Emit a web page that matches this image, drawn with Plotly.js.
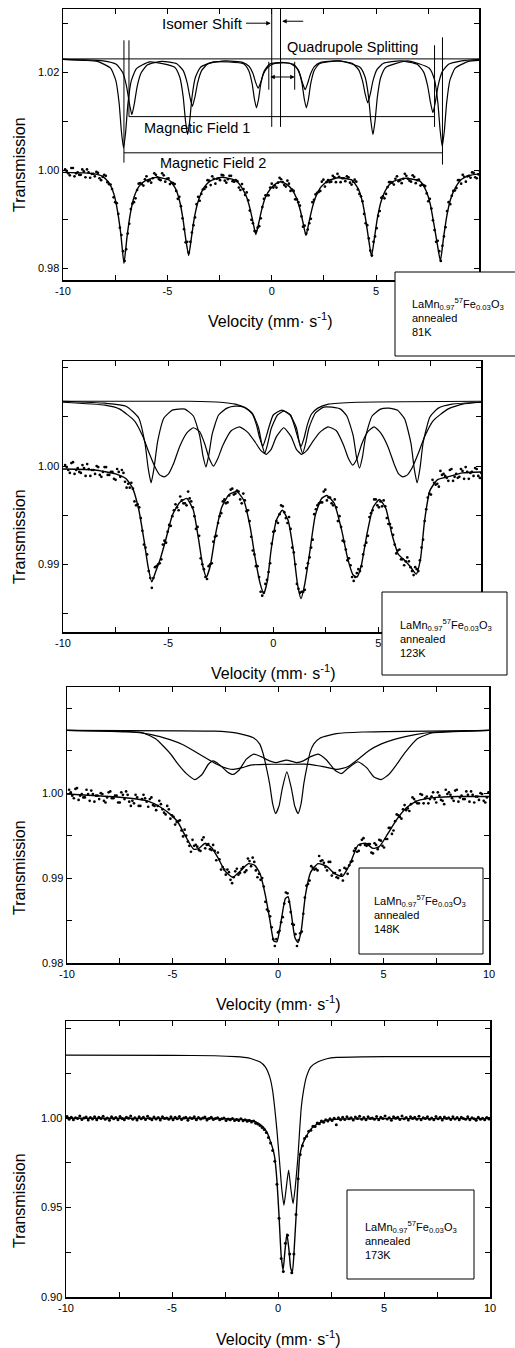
<!DOCTYPE html>
<html><head><meta charset="utf-8">
<script src="https://cdn.plot.ly/plotly-3.0.1.min.js"></script>
<style>html,body{margin:0;padding:0;background:#fff}#chart{width:515px;height:1348px}</style>
</head><body><div id="chart"></div>
<script>
// ---------- channel velocities (mm/s) ----------
const chanStartA = -9.9, chanStartA2 = -9.825, chanStepA = 0.15;   // panels 81K,123K,148K (two interleaved channel sets)
const chanStartB = -9.95, chanStepB = 0.1;                         // panel 173K

// ---------- tick labels ----------
const xTickVals = [-10, -5, 0, 5, 10];
const xTickText = ['-10', '-5', '0', '5', '10'];
const y81Vals = [0.98, 1.00, 1.02], y81Text = ['0.98', '1.00', '1.02'];
const y123Vals = [0.99, 1.00], y123Text = ['0.99', '1.00'];
const y148Vals = [0.98, 0.99, 1.00], y148Text = ['0.98', '0.99', '1.00'];
const y173Vals = [0.90, 0.95, 1.00], y173Text = ['0.90', '0.95', '1.00'];

const sampleLabels = ['81K', '123K', '148K', '173K'];

// ---------- 81 K ----------
const data81 = [1.0002,.9994,1.0005,.9988,.9996,.9991,.9998,1.0002,.9985,.9993,
.9997,.9984,.9987,.9989,.9972,.9962,.9935,.9911,.9868,.9815,
.9871,.9921,.9935,.9960,.9974,.9969,.9988,.9980,.9984,.9991,
.9982,.9994,.9977,.9984,.9975,.9972,.9942,.9927,.9880,.9854,
.9854,.9888,.9931,.9938,.9961,.9966,.9979,.9988,.9973,.9984,
.9991,.9979,.9982,.9989,.9977,.9978,.9960,.9962,.9955,.9918,
.9892,.9876,.9886,.9925,.9949,.9949,.9973,.9969,.9975,.9982,
.9970,.9979,.9958,.9958,.9941,.9928,.9885,.9871,.9892,.9935,
.9951,.9956,.9977,.9967,.9980,.9977,.9986,.9993,.9976,.9984,
.9988,.9975,.9977,.9977,.9952,.9937,.9892,.9861,.9826,.9865,
.9907,.9944,.9943,.9966,.9976,.9971,.9988,.9980,.9983,.9989,
.9979,.9990,.9974,.9981,.9971,.9968,.9937,.9922,.9878,.9856,
.9815,.9865,.9917,.9931,.9958,.9964,.9980,.9991,.9977,.9989,
.9996,.9986,.9992];
const data81b = [.9999,.9990,1.0005,.9994,.9991,1.0002,.9986,.9996,.9993,.9988,
.9995,.9980,.9991,.9976,.9971,.9945,.9933,.9883,.9835,.9839,
.9891,.9932,.9943,.9973,.9972,.9982,.9978,.9975,.9994,.9986,
.9980,.9990,.9983,.9972,.9974,.9958,.9946,.9902,.9853,.9832,
.9873,.9904,.9946,.9952,.9962,.9980,.9970,.9983,.9983,.9980,
.9990,.9975,.9989,.9978,.9980,.9965,.9972,.9950,.9939,.9899,
.9876,.9883,.9902,.9942,.9949,.9965,.9965,.9965,.9985,.9976,
.9967,.9973,.9961,.9941,.9935,.9906,.9887,.9879,.9901,.9940,
.9954,.9958,.9981,.9976,.9976,.9989,.9976,.9987,.9984,.9978,
.9986,.9971,.9981,.9961,.9947,.9911,.9888,.9836,.9854,.9882,
.9917,.9947,.9952,.9976,.9975,.9983,.9978,.9974,.9993,.9983,
.9977,.9987,.9980,.9969,.9970,.9953,.9942,.9898,.9854,.9835,
.9846,.9884,.9935,.9948,.9959,.9980,.9973,.9987,.9988,.9985,
.9995,.9984,.9999];
const fit81X = [-10,-9,-8.5,-8.1,-7.8,-7.55,-7.38,-7.23,-7.08,-6.93,-6.78,-6.6,-6.35,-6.05,-5.5,-4.9,-4.6,-4.4,-4.25,-4.12,-3.98,-3.84,-3.7,-3.5,-3.25,-2.95,-2.4,-1.75,-1.45,-1.2,-1.03,-0.9,-0.76,-0.62,-0.48,-0.3,-0.05,0.2,0.44,0.7,0.95,1.2,1.37,1.5,1.64,1.78,1.92,2.1,2.35,2.7,3.2,3.85,4.15,4.35,4.5,4.64,4.78,4.92,5.06,5.25,5.5,5.8,6.4,7.1,7.4,7.6,7.77,7.93,8.08,8.23,8.38,8.56,8.8,9.1,9.5,9.93];
const fit81Y = [.9996,.9995,.9993,.9988,.9975,.9950,.9915,.9870,.9810,.9865,.9910,.9945,.9968,.9979,.9986,.9980,.9962,.9935,.9900,.9860,.9826,.9865,.9905,.9940,.9965,.9978,.9986,.9980,.9966,.9945,.9920,.9895,.9869,.9893,.9920,.9945,.9963,.9973,.9977,.9972,.9962,.9942,.9918,.9893,.9867,.9893,.9920,.9945,.9966,.9979,.9985,.9980,.9962,.9935,.9900,.9860,.9824,.9862,.9902,.9938,.9963,.9977,.9984,.9978,.9958,.9930,.9890,.9850,.9815,.9862,.9905,.9940,.9965,.9982,.9990,.9993];
const sub81aX = [-10,-9,-8.35,-7.72,-7.47,-7.31,-7.2,-7.1,-7.0,-6.89,-6.73,-6.48,-5.85,-4.65,-4.4,-4.24,-4.13,-4.03,-3.93,-3.82,-3.66,-3.41,-2.78,-1.35,-1.1,-0.94,-0.83,-0.73,-0.63,-0.52,-0.36,-0.11,0.47,1.04,1.29,1.45,1.56,1.66,1.76,1.87,2.03,2.28,3.26,4.23,4.48,4.64,4.75,4.85,4.95,5.06,5.22,5.47,6.51,7.55,7.8,7.96,8.07,8.17,8.27,8.38,8.54,8.79,9.42,9.93];
const sub81aY = [1.0227,1.0225,1.0223,1.0209,1.0184,1.0137,1.0079,1.0046,1.0078,1.0136,1.0183,1.0208,1.0222,1.0211,1.0190,1.0150,1.0101,1.0073,1.0101,1.0150,1.0190,1.0211,1.0222,1.0218,1.0204,1.0178,1.0146,1.0128,1.0146,1.0178,1.0203,1.0217,1.0221,1.0217,1.0204,1.0178,1.0146,1.0128,1.0146,1.0178,1.0204,1.0218,1.0224,1.0211,1.0190,1.0150,1.0101,1.0073,1.0101,1.0150,1.0190,1.0211,1.0224,1.0209,1.0185,1.0138,1.0081,1.0049,1.0081,1.0138,1.0185,1.0209,1.0223,1.0225];
const sub81bX = [-10,-9,-8.08,-7.45,-7.14,-6.95,-6.82,-6.7,-6.58,-6.45,-6.26,-5.95,-5.25,-4.55,-4.24,-4.05,-3.92,-3.8,-3.68,-3.55,-3.36,-3.05,-2.22,-1.4,-1.09,-0.9,-0.77,-0.65,-0.53,-0.4,-0.21,0.1,0.47,0.85,1.16,1.35,1.48,1.6,1.72,1.85,2.04,2.35,3.1,3.85,4.16,4.35,4.48,4.6,4.72,4.85,5.04,5.35,6.16,6.97,7.28,7.47,7.6,7.72,7.84,7.97,8.16,8.47,9.1,9.93];
const sub81bY = [1.0227,1.0226,1.0224,1.0217,1.0200,1.0171,1.0137,1.0114,1.0137,1.0171,1.0199,1.0216,1.0223,1.0218,1.0204,1.0179,1.0150,1.0131,1.0150,1.0179,1.0204,1.0218,1.0224,1.0221,1.0213,1.0198,1.0180,1.0168,1.0180,1.0197,1.0210,1.0218,1.0220,1.0219,1.0211,1.0196,1.0178,1.0165,1.0178,1.0196,1.0212,1.0221,1.0224,1.0219,1.0206,1.0183,1.0156,1.0138,1.0156,1.0183,1.0206,1.0219,1.0224,1.0217,1.0201,1.0173,1.0140,1.0118,1.0140,1.0173,1.0201,1.0217,1.0224,1.0227];

// ---------- 123 K ----------
const data123 = [1.0001,.9996,1.0003,.9992,.9998,.9993,.9998,1.0002,.9990,.9996,
1.0000,.9991,.9994,.9999,.9991,.9994,.9986,.9994,.9996,.9984,
.9982,.9983,.9964,.9961,.9947,.9920,.9910,.9886,.9886,.9898,
.9901,.9920,.9922,.9940,.9949,.9961,.9955,.9965,.9962,.9974,
.9964,.9949,.9938,.9906,.9895,.9885,.9900,.9923,.9929,.9949,
.9964,.9962,.9970,.9977,.9972,.9974,.9962,.9965,.9955,.9928,
.9910,.9898,.9872,.9871,.9884,.9901,.9933,.9944,.9951,.9959,
.9947,.9948,.9917,.9900,.9875,.9872,.9874,.9901,.9917,.9951,
.9960,.9963,.9974,.9965,.9968,.9960,.9958,.9949,.9924,.9915,
.9906,.9887,.9887,.9895,.9898,.9919,.9929,.9952,.9966,.9960,
.9964,.9965,.9947,.9941,.9930,.9911,.9915,.9905,.9903,.9903,
.9893,.9897,.9893,.9917,.9944,.9968,.9971,.9983,.9982,.9995,
.9992,.9988,.9996,.9985,.9992,.9989,.9995,.9999,.9987,.9994,
.9998,.9990,.9993];
const data123b = [.9999,.9993,1.0004,.9996,.9994,1.0001,.9990,.9997,.9996,.9992,
.9999,.9989,.9999,.9991,.9994,.9987,.9997,.9989,.9993,.9978,
.9978,.9977,.9960,.9958,.9934,.9917,.9893,.9876,.9897,.9900,
.9905,.9924,.9933,.9939,.9955,.9958,.9969,.9962,.9960,.9967,
.9958,.9936,.9929,.9900,.9887,.9898,.9901,.9928,.9942,.9952,
.9966,.9963,.9976,.9971,.9975,.9966,.9972,.9954,.9944,.9914,
.9898,.9887,.9868,.9880,.9892,.9921,.9934,.9942,.9960,.9953,
.9942,.9936,.9912,.9880,.9871,.9872,.9896,.9907,.9925,.9956,
.9962,.9963,.9976,.9968,.9962,.9966,.9944,.9938,.9923,.9904,
.9899,.9883,.9891,.9893,.9910,.9922,.9948,.9955,.9966,.9958,
.9959,.9959,.9941,.9937,.9920,.9914,.9905,.9899,.9907,.9897,
.9889,.9895,.9904,.9925,.9956,.9972,.9986,.9981,.9979,.9991,
.9990,.9985,.9997,.9989,.9988,.9997,.9987,.9994,.9993,.9990,
.9997,.9988,.9998];
const fit123X = [-10,-8.5,-7.5,-7.0,-6.7,-6.4,-6.15,-5.95,-5.78,-5.6,-5.38,-5.1,-4.8,-4.45,-4.11,-3.8,-3.55,-3.35,-3.18,-3.0,-2.75,-2.45,-2.1,-1.73,-1.4,-1.1,-0.85,-0.62,-0.45,-0.28,-0.1,0.15,0.43,0.7,0.95,1.15,1.32,1.5,1.72,2.0,2.3,2.55,2.9,3.25,3.55,3.8,3.98,4.18,4.45,4.75,5.05,5.35,5.65,5.95,6.2,6.5,6.8,7.0,7.2,7.45,7.8,8.3,9.0,9.88];
const fit123Y = [.9997,.9996,.9992,.9987,.9978,.9956,.9925,.9897,.9882,.9892,.9905,.9926,.9950,.9963,.9967,.9955,.9925,.9898,.9887,.9898,.9930,.9958,.9971,.9974,.9965,.9938,.9905,.9880,.9870,.9883,.9915,.9945,.9955,.9945,.9915,.9880,.9865,.9880,.9910,.9950,.9967,.9970,.9962,.9935,.9905,.9889,.9887,.9898,.9930,.9958,.9966,.9957,.9930,.9910,.9905,.9898,.9890,.9905,.9945,.9975,.9986,.9989,.9993,.9994];
const sub123aX = [-10,-8,-7,-6.4,-6.1,-5.95,-5.81,-5.67,-5.5,-5.2,-4.8,-4.5,-4.2,-3.8,-3.5,-3.34,-3.2,-3.06,-2.9,-2.6,-2.2,-1.8,-1.4,-1.0,-0.7,-0.55,-0.4,-0.25,-0.1,0.2,0.5,0.8,1.1,1.25,1.4,1.55,1.7,2.0,2.4,2.8,3.2,3.5,3.8,3.96,4.1,4.24,4.4,4.7,5.1,5.5,5.9,6.25,6.55,6.7,6.84,6.98,7.13,7.45,7.85,8.5,9.88];
const sub123aY = [1.0066,1.0064,1.0061,1.0049,1.0023,.9998,.9983,.9998,1.0025,1.0049,1.0057,1.0058,1.0058,1.0051,1.0031,1.0010,.9999,1.0012,1.0033,1.0052,1.0059,1.0061,1.0060,1.0054,1.0039,1.0023,1.0013,1.0024,1.0038,1.0052,1.0056,1.0052,1.0039,1.0023,1.0013,1.0024,1.0039,1.0054,1.0060,1.0060,1.0058,1.0051,1.0031,1.0009,.9998,1.0009,1.0031,1.0051,1.0058,1.0059,1.0057,1.0048,1.0023,.9998,.9983,.9998,1.0024,1.0050,1.0059,1.0063,1.0065];
const sub123bX = [-10,-8,-7.3,-6.6,-6.2,-5.9,-5.6,-5.4,-5.19,-4.98,-4.75,-4.45,-4.1,-3.8,-3.5,-3.25,-3.05,-2.84,-2.63,-2.4,-2.0,-1.6,-1.2,-0.85,-0.6,-0.33,-0.1,0.15,0.5,0.85,1.1,1.35,1.6,1.85,2.2,2.6,3.0,3.35,3.57,3.78,3.99,4.2,4.5,4.8,5.1,5.45,5.75,5.96,6.17,6.38,6.6,6.9,7.2,7.6,8.3,9.0,9.88];
const sub123bY = [1.0065,1.0062,1.0058,1.0046,1.0030,1.0013,.9998,.9991,.9989,.9992,1.0002,1.0020,1.0034,1.0039,1.0035,1.0022,1.0008,1.0000,1.0008,1.0021,1.0036,1.0040,1.0034,1.0024,1.0016,1.0012,1.0017,1.0030,1.0039,1.0030,1.0017,1.0012,1.0016,1.0024,1.0034,1.0040,1.0036,1.0021,1.0008,1.0001,1.0008,1.0022,1.0035,1.0040,1.0034,1.0020,1.0002,.9992,.9989,.9991,.9998,1.0013,1.0030,1.0046,1.0058,1.0063,1.0065];
const sub123cX = [-10,-4,-2.5,-1.8,-1.3,-1.0,-0.8,-0.65,-0.5,-0.35,-0.2,0.0,0.41,0.82,1.02,1.17,1.32,1.47,1.62,1.82,2.12,2.62,4.0,9.88];
const sub123cY = [1.0066,1.0066,1.0065,1.0063,1.0059,1.0053,1.0042,1.0029,1.0020,1.0029,1.0040,1.0052,1.0057,1.0052,1.0040,1.0029,1.0020,1.0029,1.0042,1.0053,1.0059,1.0063,1.0065,1.0066];

// ---------- 148 K ----------
const data148 = [1.0004,.9997,1.0005,.9992,.9999,.9995,.9999,1.0003,.9990,.9997,
1.0000,.9991,.9995,1.0002,.9994,.9997,.9989,.9998,1.0002,.9990,
.9991,.9998,.9985,.9993,.9994,.9984,.9995,.9985,.9985,.9987,
.9977,.9985,.9970,.9972,.9966,.9968,.9949,.9950,.9938,.9945,
.9939,.9933,.9945,.9935,.9940,.9933,.9932,.9930,.9910,.9910,
.9910,.9898,.9901,.9911,.9906,.9913,.9909,.9920,.9924,.9909,
.9905,.9900,.9872,.9861,.9842,.9820,.9836,.9848,.9870,.9882,
.9860,.9845,.9820,.9835,.9858,.9891,.9897,.9912,.9911,.9926,
.9921,.9913,.9919,.9903,.9906,.9900,.9904,.9912,.9905,.9919,
.9932,.9931,.9939,.9947,.9938,.9940,.9929,.9939,.9945,.9938,
.9946,.9959,.9952,.9967,.9974,.9970,.9986,.9982,.9987,.9993,
.9988,.9999,.9988,.9996,.9993,1.0001,.9989,.9997,.9991,1.0004,
1.0001,.9994,1.0003,.9990,.9997,.9993,.9998,1.0002,.9989,.9996,
1.0000,.9991,.9995];
const data148b = [1.0001,.9994,1.0006,.9997,.9995,1.0004,.9991,.9999,.9997,.9993,
.9999,.9989,1.0001,.9994,.9997,.9989,1.0001,.9993,.9998,.9985,
.9988,.9995,.9985,.9998,.9990,.9993,.9986,.9980,.9991,.9981,
.9975,.9981,.9974,.9963,.9967,.9956,.9957,.9943,.9931,.9938,
.9937,.9932,.9948,.9939,.9934,.9939,.9921,.9922,.9913,.9904,
.9907,.9894,.9908,.9904,.9911,.9907,.9923,.9914,.9919,.9901,
.9898,.9890,.9863,.9855,.9828,.9828,.9838,.9854,.9883,.9872,
.9846,.9834,.9827,.9837,.9877,.9893,.9914,.9910,.9909,.9920,
.9918,.9909,.9919,.9906,.9901,.9909,.9897,.9911,.9915,.9920,
.9935,.9932,.9945,.9939,.9940,.9930,.9941,.9934,.9944,.9936,
.9946,.9959,.9956,.9975,.9972,.9981,.9980,.9979,.9995,.9990,
.9988,.9998,.9994,.9988,.9996,.9993,1.0001,.9992,.9987,.9999,
.9998,.9991,1.0004,.9995,.9993,1.0002,.9990,.9998,.9996,.9992,
.9999,.9989,1.0001];
const fit148X = [-10,-8,-7,-6.2,-5.6,-5.1,-4.75,-4.4,-4.0,-3.75,-3.45,-3.15,-2.85,-2.5,-2.15,-1.8,-1.4,-1.1,-0.85,-0.6,-0.38,-0.2,-0.05,0.15,0.35,0.48,0.62,0.8,0.95,1.1,1.3,1.55,1.9,2.3,2.7,3.05,3.4,3.8,4.15,4.5,4.8,5.2,5.6,6.1,6.6,7.5,8.5,10];
const fit148Y = [.9999,.9996,.9994,.9991,.9984,.9975,.9966,.9950,.9934,.9935,.9941,.9936,.9924,.9908,.9901,.9908,.9917,.9915,.9905,.9880,.9850,.9826,.9825,.9850,.9876,.9878,.9860,.9830,.9824,.9838,.9880,.9907,.9917,.9914,.9905,.9902,.9916,.9939,.9941,.9935,.9937,.9952,.9968,.9983,.9991,.9995,.9996,.9996];
const sub148aX = [-10,-3,-2,-1.5,-1.15,-0.87,-0.71,-0.55,-0.39,-0.25,-0.11,0.05,0.2,0.42,0.64,0.79,0.95,1.09,1.23,1.38,1.52,1.7,2.0,2.76,4,10];
const sub148aY = [1.0074,1.0073,1.0071,1.0068,1.0065,1.0058,1.0047,1.0030,1.0010,.9987,.9976,.9985,1.0005,1.0025,1.0005,.9985,.9976,.9987,1.0012,1.0032,1.0048,1.0058,1.0065,1.0070,1.0072,1.0074];
const sub148bX = [-10,-7.5,-6.4,-5.8,-5.12,-4.7,-4.34,-3.94,-3.6,-3.3,-3.07,-2.75,-2.4,-2.13,-1.85,-1.5,-1.15,-0.8,-0.4,-0.1,0.4,0.9,1.2,1.55,1.9,2.3,2.7,3.0,3.3,3.79,4.2,4.55,4.89,5.25,5.6,6.0,6.6,7.3,8.0,10];
const sub148bY = [1.0074,1.0073,1.0071,1.0064,1.0047,1.0033,1.0023,1.0016,1.0022,1.0034,1.0038,1.0033,1.0025,1.0022,1.0027,1.0040,1.0046,1.0043,1.0038,1.0036,1.0039,1.0036,1.0038,1.0043,1.0046,1.0039,1.0027,1.0023,1.0029,1.0037,1.0030,1.0019,1.0016,1.0022,1.0033,1.0047,1.0064,1.0071,1.0072,1.0074];
const sub148cX = [-10,-7,-6,-5.12,-4.5,-4.0,-3.4,-2.9,-2.4,-2.1,-1.7,-1.3,-0.6,0.5,1.5,2.2,2.8,3.3,3.8,4.3,4.9,5.6,6.5,7.5,10];
const sub148cY = [1.0074,1.0072,1.0069,1.0063,1.0057,1.0050,1.0041,1.0034,1.0029,1.0028,1.0030,1.0033,1.0034,1.0034,1.0034,1.0031,1.0028,1.0031,1.0040,1.0050,1.0058,1.0064,1.0069,1.0072,1.0074];

// ---------- 173 K ----------
const data173 = [1.0008,.9993,1.0004,.9989,1.0001,.9996,1.0010,.9991,.9999,1.0005,
.9988,1.0002,.9994,1.0007,.9990,1.0003,.9997,1.0009,.9992,1.0000,
.9987,1.0006,.9995,1.0002,.9990,1.0008,.9996,.9989,1.0004,.9998,
1.0011,.9993,1.0001,.9988,1.0006,.9995,1.0003,.9991,1.0009,.9997,
.9990,1.0005,.9994,1.0002,.9988,1.0007,.9996,1.0000,.9992,1.0006,
.9989,1.0003,.9995,1.0008,.9991,.9999,1.0004,.9987,1.0001,.9996,
1.0006,.9990,1.0002,.9994,.9999,1.0005,.9988,.9997,1.0003,.9991,
.9996,1.0001,.9989,.9995,.9999,.9986,.9994,.9990,.9996,.9985,
.9991,.9986,.9995,.9984,.9990,.9981,.9985,.9977,.9982,.9970,
.9966,.9958,.9947,.9935,.9918,.9890,.9860,.9818,.9758,.9630,
.9440,.9215,.9142,.9300,.9345,.9240,.9135,.9240,.9460,.9660,
.9795,.9845,.9885,.9898,.9925,.9931,.9953,.9952,.9972,.9968,
.9983,.9976,.9990,.9982,.9995,.9986,.9998,.9962,1.0001,.9990,
1.0003,.9991,1.0007,.9995,1.0001,.9988,1.0005,.9997,1.0009,.9992,
1.0002,.9989,1.0006,.9996,1.0000,.9993,1.0008,.9990,1.0003,.9997,
1.0010,.9994,1.0001,.9987,1.0006,.9998,1.0004,.9991,1.0011,.9995,
1.0002,.9988,1.0007,.9996,1.0003,.9992,1.0009,.9989,1.0001,.9997,
1.0006,.9993,1.0000,.9990,1.0008,.9995,1.0003,.9988,1.0005,.9996,
1.0001,.9991,1.0007,.9994,1.0002,.9989,1.0004,.9997,.9992,1.0006,
.9990,1.0001,.9995,.9987,1.0003,.9993,.9998,.9989,1.0002,.9994];
const fit173X = [-10,-3,-2,-1.4,-1.0,-0.71,-0.5,-0.39,-0.25,-0.16,-0.05,0.05,0.15,0.24,0.33,0.42,0.52,0.6,0.68,0.78,0.9,1.02,1.12,1.26,1.57,1.9,2.3,3,5,10];
const fit173Y = [.9998,.9997,.9993,.9988,.9975,.9950,.9915,.9880,.9830,.9782,.9650,.9450,.9230,.9149,.9260,.9354,.9260,.9160,.9140,.9300,.9550,.9782,.9840,.9880,.9940,.9970,.9987,.9994,.9996,.9996];
const sub173X = [-10,-5,-3,-2,-1.4,-0.86,-0.6,-0.39,-0.25,-0.16,-0.05,0.08,0.18,0.28,0.38,0.5,0.61,0.71,0.82,0.94,1.02,1.1,1.2,1.34,1.55,1.89,2.3,2.75,4,6,10];
const sub173Y = [1.0350,1.0349,1.0347,1.0342,1.0335,1.0313,1.0285,1.0229,1.0150,1.0061,.9930,.9745,.9600,.9512,.9600,.9708,.9600,.9521,.9620,.9782,.9930,1.0061,1.0150,1.0229,1.0285,1.0313,1.0330,1.0338,1.0341,1.0342,1.0342];

// ---------- build ----------
const BLACK = '#000';
const FONT = 'Liberation Sans, Arial, Helvetica, sans-serif';
function pts(y, x0, dx, n, size) {
  return {type:'scatter', mode:'markers', y:y, x0:x0, dx:dx, xaxis:'x'+(n>1?n:''), yaxis:'y'+(n>1?n:''),
    marker:{size:size, color:BLACK}, showlegend:false, hoverinfo:'skip'};
}
function curve(x, y, n, w) {
  return {type:'scatter', mode:'lines', x:x, y:y, xaxis:'x'+(n>1?n:''), yaxis:'y'+(n>1?n:''),
    line:{color:BLACK, width:w, shape:'spline', smoothing:0.5}, showlegend:false, hoverinfo:'skip'};
}
const traces = [
  pts(data81, chanStartA, chanStepA, 1, 2.7), pts(data81b, chanStartA2, chanStepA, 1, 2.7), curve(fit81X, fit81Y, 1, 1.4),
  curve(sub81aX, sub81aY, 1, 1.2), curve(sub81bX, sub81bY, 1, 1.2),
  pts(data123, chanStartA, chanStepA, 2, 2.7), pts(data123b, chanStartA2, chanStepA, 2, 2.7), curve(fit123X, fit123Y, 2, 1.4),
  curve(sub123aX, sub123aY, 2, 1.2), curve(sub123bX, sub123bY, 2, 1.2), curve(sub123cX, sub123cY, 2, 1.2),
  pts(data148, chanStartA, chanStepA, 3, 2.7), pts(data148b, chanStartA2, chanStepA, 3, 2.7), curve(fit148X, fit148Y, 3, 1.4),
  curve(sub148aX, sub148aY, 3, 1.2), curve(sub148bX, sub148bY, 3, 1.2), curve(sub148cX, sub148cY, 3, 1.2),
  pts(data173, chanStartB, chanStepB, 4, 3), curve(fit173X, fit173Y, 4, 1.4),
  curve(sub173X, sub173Y, 4, 1.2)
];

const W = 515, H = 1348;
const px = v => v / W, py = v => 1 - v / H;
function xax(l, r, range, anchor) {
  return {domain:[px(l), px(r)], range:range, anchor:anchor, tickmode:'array', tickvals:xTickVals, ticktext:xTickText,
    showline:true, linecolor:BLACK, linewidth:1.5, mirror:'ticks', ticks:'inside', ticklen:5, tickwidth:1, tickcolor:BLACK,
    showgrid:false, zeroline:false, tickfont:{family:FONT, size:11, color:BLACK},
    minor:{ticks:'inside', ticklen:5, tickwidth:1, tickcolor:BLACK, dtick:2.5, tick0:0, showgrid:false}};
}
function yax(t, b, range, anchor, vals, text, mdt) {
  return {domain:[py(b), py(t)], range:range, anchor:anchor, tickmode:'array', tickvals:vals, ticktext:text,
    showline:true, linecolor:BLACK, linewidth:1.5, mirror:'ticks', ticks:'inside', ticklen:5, tickwidth:1, tickcolor:BLACK,
    showgrid:false, zeroline:false, tickfont:{family:FONT, size:11, color:BLACK},
    minor:{ticks:'inside', ticklen:5, tickwidth:1, tickcolor:BLACK, dtick:mdt, tick0:0, showgrid:false}};
}

const formula = 'LaMn<sub>0.97</sub><sup>57</sup>Fe<sub>0.03</sub>O<sub>3</sub>';
const ann = [];
const shapes = [];
function ptxt(text, x, y, size, opts) {
  ann.push(Object.assign({xref:'paper', yref:'paper', x:px(x), y:py(y), xanchor:'center', yanchor:'middle',
    text:text, showarrow:false, font:{family:FONT, size:size, color:BLACK}}, opts||{}));
}
// axis titles
[[270,320],[273,672],[278,1003],[278,1338]].forEach(p => ptxt('Velocity (mm· s<sup>-1</sup>)', p[0], p[1], 16));
[165,537,868,1201].forEach(y => ptxt('Transmission', 19, y, 16, {textangle:-90}));
// sample boxes
const boxes = [[395,272,522,356,410,317],[382,592,507,675,398,638],[359,868,483,954,372,914],[347,1190,474,1279,363,1240]];
boxes.forEach((b, i) => {
  shapes.push({type:'rect', xref:'paper', yref:'paper', x0:px(b[0]), x1:px(b[2]), y0:py(b[3]), y1:py(b[1]),
    line:{color:BLACK, width:1}, fillcolor:'#fff', layer:'above'});
  ptxt(formula + '<br>annealed<br>' + sampleLabels[i], b[4], b[5], 11, {xanchor:'left', align:'left'});
});
// 81 K explanatory marks (data coords)
function seg(x0, y0, x1, y1) {
  shapes.push({type:'line', xref:'x', yref:'y', x0:x0, y0:y0, x1:x1, y1:y1, line:{color:BLACK, width:1}, layer:'above'});
}
seg(-10, 1.0228, 9.93, 1.0228);
seg(0, 1.0089, 0, 1.033); seg(0.42, 1.0089, 0.42, 1.033);
seg(-0.14, 1.0165, -0.14, 1.0222); seg(1.1, 1.0165, 1.1, 1.0222);
seg(-6.84, 1.0110, 7.8, 1.0110); seg(-6.84, 1.0110, -6.84, 1.0266); seg(7.8, 1.0089, 7.8, 1.0256);
seg(-7.08, 1.0036, 8.18, 1.0036); seg(-7.08, 1.0016, -7.08, 1.0266); seg(8.18, 1.0012, 8.18, 1.0272);
function dtxt(text, x, y, size) {
  ann.push({xref:'x', yref:'y', x:x, y:y, xanchor:'center', yanchor:'middle', text:text, showarrow:false,
    font:{family:FONT, size:size, color:BLACK}});
}
dtxt('Isomer Shift', -3.3, 1.0301, 15);
dtxt('Quadrupole Splitting', 3.85, 1.0252, 14.5);
dtxt('Magnetic Field 1', -3.56, 1.0087, 14.5);
dtxt('Magnetic Field 2', -2.8, 1.0016, 14.5);
function arrow(x, y, ax, ay, side) {
  ann.push({xref:'x', yref:'y', axref:'x', ayref:'y', x:x, y:y, ax:ax, ay:ay, text:'', showarrow:true,
    arrowhead:2, arrowsize:0.9, arrowwidth:1, arrowcolor:BLACK, arrowside:side||'end', standoff:0, startstandoff:0});
}
arrow(-0.05, 1.0301, -1.3, 1.0301);
arrow(0.5, 1.0305, 1.58, 1.0305);
arrow(1.1, 1.0191, -0.14, 1.0191, 'end+start');

const layout = {
  width:W, height:H, margin:{l:0, r:0, t:0, b:0}, paper_bgcolor:'#fff', plot_bgcolor:'#fff',
  font:{family:FONT, color:BLACK}, showlegend:false,
  xaxis: xax(63, 479, [-10, 9.93], 'y'),
  yaxis: yax(9, 280, [0.9776, 1.0330], 'x', y81Vals, y81Text, 0.01),
  xaxis2: xax(63, 481, [-10, 9.88], 'y2'),
  yaxis2: yax(361, 632, [0.9831, 1.0107], 'x2', y123Vals, y123Text, 0.005),
  xaxis3: xax(67, 489, [-10, 10], 'y3'),
  yaxis3: yax(687, 963, [0.98, 1.0125], 'x3', y148Vals, y148Text, 0.005),
  xaxis4: xax(66, 490, [-10, 10], 'y4'),
  yaxis4: yax(1021, 1297, [0.90, 1.0541], 'x4', y173Vals, y173Text, 0.025),
  annotations: ann, shapes: shapes
};
Plotly.newPlot('chart', traces, layout, {staticPlot:true, displayModeBar:false});
</script></body></html>
